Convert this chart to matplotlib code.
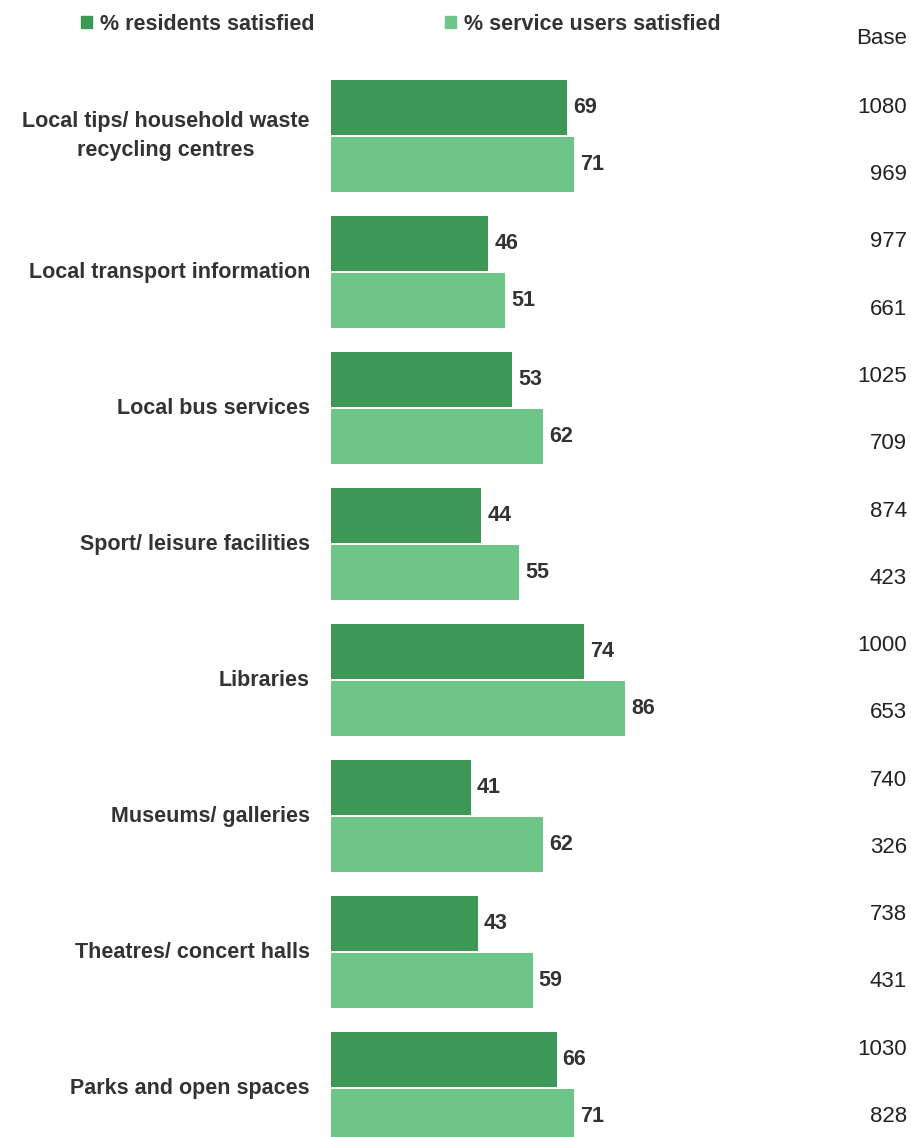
import numpy as np
import matplotlib.pyplot as plt
from matplotlib.patches import Patch
from matplotlib.transforms import blended_transform_factory

plt.rcParams['font.family'] = ['Liberation Sans', 'DejaVu Sans']

categories = ["Local tips/ household waste\nrecycling centres",
              "Local transport information",
              "Local bus services",
              "Sport/ leisure facilities",
              "Libraries",
              "Museums/ galleries",
              "Theatres/ concert halls",
              "Parks and open spaces"]
residents = [69, 46, 53, 44, 74, 41, 43, 66]
users = [71, 51, 62, 55, 86, 62, 59, 71]
base_residents = [1080, 977, 1025, 874, 1000, 740, 738, 1030]
base_users = [969, 661, 709, 423, 653, 326, 431, 828]

dark = "#3d9755"
light = "#6dc687"
txt = "#333333"
fs = 15.5

fig = plt.figure(figsize=(9.12, 11.37), dpi=100)
ax = fig.add_axes([331 / 912, 0, 500 / 912, 1])

y = np.arange(len(categories))
off = 0.21
h = 0.405
ax.barh(y - off, residents, height=h, color=dark)
ax.barh(y + off, users, height=h, color=light)

for yi, r, u in zip(y, residents, users):
    ax.text(r + 1.7, yi - off, str(r), va="center", ha="left",
            fontsize=fs, fontweight="bold", color=txt)
    ax.text(u + 1.7, yi + off, str(u), va="center", ha="left",
            fontsize=fs, fontweight="bold", color=txt)

ax.set_xlim(0, 500 / 3.42)
ax.set_ylim(7.36, -1)
ax.axis("off")

# category labels on the left
tr = blended_transform_factory(fig.transFigure, ax.transData)
for yi, c in zip(y, categories):
    ax.text(310 / 912, yi, c, transform=tr, ha="right", va="center",
            fontsize=fs, fontweight="bold", color=txt, multialignment="center",
            linespacing=1.5)

# base column (evenly spaced)
bases = [b for pair in zip(base_residents, base_users) for b in pair]
pitch = 67.27 / 136
for k, b in enumerate(bases):
    ax.text(907 / 912, -off + k * pitch, str(b), transform=tr, ha="right",
            va="center", fontsize=16, color="#222222")
fig.text(907 / 912, 1 - 38 / 1137, "Base", ha="right", va="center",
         fontsize=16, color="#222222")

handles = [Patch(color=dark, label="% residents satisfied"),
           Patch(color=light, label="% service users satisfied")]
fig.legend(handles=handles, loc="center left", bbox_to_anchor=(62 / 912, 1 - 24 / 1137),
           ncol=2, frameon=False, handlelength=0.5, handleheight=0.5,
           handletextpad=0.35, columnspacing=6.1,
           prop={"size": fs, "weight": "bold"}, labelcolor=txt)

fig.savefig("out.png", dpi=100)
